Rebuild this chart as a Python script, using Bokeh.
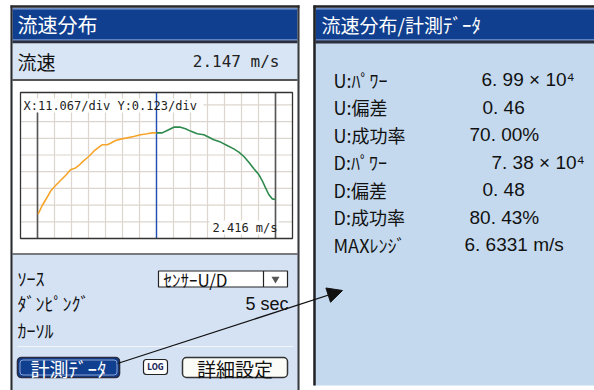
from bokeh.plotting import figure
from bokeh.models import Range1d, Arrow, NormalHead
from bokeh.core.properties import value
from bokeh.embed import file_html
from bokeh.resources import INLINE

# ---------------- data ----------------
x_per_div = 11.067          # mm / div
y_per_div = 0.123           # m/s / div
scale_bottom_mps = 1.637    # velocity at the bottom edge of the profile chart
pipe_wall_mm = [-77.47, 77.47]
cursor_mm = [0.0]

upstream_x_mm = [-77.0, -74.4, -71.2, -68.6, -65.7, -62.5, -59.2, -56.0, -52.7, -50.6,
                 -47.3, -44.1, -40.8, -37.5, -35.4, -32.1, -29.9, -26.7, -23.4, -19.1,
                 -14.8, -10.4, -6.1, -2.8, 0.0]
upstream_v = [1.819, 1.880, 1.941, 1.991, 2.027, 2.064, 2.101, 2.143, 2.157, 2.175,
              2.211, 2.241, 2.280, 2.310, 2.327, 2.327, 2.339, 2.359, 2.369, 2.378,
              2.388, 2.401, 2.408, 2.415, 2.415]
downstream_x_mm = [0.0, 3.7, 6.9, 11.3, 15.6, 18.9, 22.1, 26.5, 30.8, 34.1, 37.3, 41.7,
                   46.0, 50.3, 53.6, 56.9, 60.1, 63.4, 66.6, 68.8, 71.0, 73.1, 75.3, 77.5]
downstream_v = [2.415, 2.415, 2.432, 2.457, 2.457, 2.445, 2.428, 2.408, 2.401, 2.383, 2.364,
                2.347, 2.322, 2.297, 2.273, 2.241, 2.199, 2.150, 2.108, 2.064, 2.010,
                1.961, 1.929, 1.924]

left_title = "流速分布"
speed_label = "流速"
speed_value = "2.147 m/s"
scale_label = "X:11.067/div Y:0.123/div"
cursor_value = "2.416 m/s"
ctrl_labels = ["ｿｰｽ", "ﾀﾞﾝﾋﾟﾝｸﾞ", "ｶｰｿﾙ"]
source_value = "ｾﾝｻｰU/D"
damping_value = "5 sec"
btn_measure = "計測ﾃﾞｰﾀ"
btn_log = "LOG"
btn_detail = "詳細設定"

right_title = "流速分布/計測ﾃﾞｰﾀ"
meas_labels = ["U:ﾊﾟﾜｰ", "U:偏差", "U:成功率", "D:ﾊﾟﾜｰ", "D:偏差", "D:成功率", "MAXﾚﾝｼﾞ"]
meas_values = ["6. 99 × 10⁴", "0. 46", "70. 00%", "7. 38 × 10⁴", "0. 48", "80. 43%", "6. 6331 m/s"]

# ---------------- layout constants (pixels of the 594x390 picture) ----------------
FR_L, FR_R, FR_T, FR_B = 0, 594, 0, 390
CH_L, CH_R, CH_T, CH_B = 20, 292, 92, 238
N_XDIV = 16
PX_XDIV = (CH_R - CH_L) / N_XDIV
PX_YDIV = 16.7

JP = "Noto Sans CJK JP"
BLUE = "#113f8f"

p = figure(width=FR_R - FR_L, height=FR_B - FR_T,
           x_range=Range1d(FR_L, FR_R), y_range=Range1d(FR_B, FR_T),
           output_backend="svg", toolbar_location=None, min_border=0,
           x_axis_type=None, y_axis_type=None)
p.grid.visible = False
p.outline_line_color = None
p.background_fill_color = "white"
p.border_fill_color = "white"

x_left_val = -N_XDIV / 2 * x_per_div
p.extra_x_ranges = {"chart": Range1d(x_left_val - (CH_L - FR_L) / PX_XDIV * x_per_div,
                                     x_left_val + (FR_R - CH_L) / PX_XDIV * x_per_div)}
p.extra_y_ranges = {"chart": Range1d(scale_bottom_mps - (FR_B - CH_B) / PX_YDIV * y_per_div,
                                     scale_bottom_mps + (CH_B - FR_T) / PX_YDIV * y_per_div)}
chart_top_val = scale_bottom_mps + (CH_B - CH_T) / PX_YDIV * y_per_div


def box(l, r, t, b, fill, line=None, lw=1.0, radius=0):
    kw = dict(left=[l], right=[r], top=[t], bottom=[b], fill_color=fill,
              line_color=line, line_width=lw)
    if radius:
        kw["border_radius"] = radius
    p.quad(**kw)


def seg(x0, y0, x1, y1, color, w=1.0, **kw):
    p.segment(x0=[x0], y0=[y0], x1=[x1], y1=[y1], line_color=color, line_width=w, **kw)


def txt(x, y, s, size, color="black", font=JP, align="left", style="normal"):
    p.text(x=[x], y=[y], text=[s], text_font=value(font), text_font_size=f"{size}px",
           text_color=color, text_align=align, text_baseline="middle", text_font_style=style)


# ---------------- left panel ----------------
box(10, 299, 5, 392, "#d4e2f4")
box(12, 297, 8, 40, BLUE)
seg(12, 9, 297, 9, "#4a70b8", 1)
seg(12, 39, 297, 39, "#5f82c2", 1)
seg(12, 41.5, 297, 41.5, "#2b2e3c", 3)
box(12, 297, 43, 78, "#d8e5f5")
seg(12, 79.5, 297, 79.5, "#555555", 2)
box(12, 297, 80.5, 253, "white")
seg(12, 253.5, 297, 253.5, "#555555", 1.5)
seg(11, 5, 11, 392, "#2a2a2a", 2)
seg(298, 5, 298, 392, "#3a3a3a", 2)
seg(10, 6, 299, 6, "#2a2a2a", 2.5)

txt(17, 24, left_title, 20, "white")
txt(17, 61, speed_label, 19, "#111111")
txt(279, 61, speed_value, 16, "#222222", font="DejaVu Sans Mono", align="right")

# chart grid
grid_x = [x_left_val + k * x_per_div for k in range(1, N_XDIV)]
p.segment(x0=grid_x, y0=[scale_bottom_mps] * len(grid_x), x1=grid_x, y1=[chart_top_val] * len(grid_x),
          line_color="#dcd6ce", line_width=1.2, x_range_name="chart", y_range_name="chart")
grid_y = []
k = 1
while scale_bottom_mps + k * y_per_div < chart_top_val:
    grid_y.append(scale_bottom_mps + k * y_per_div)
    k += 1
p.segment(x0=[x_left_val] * len(grid_y), y0=grid_y, x1=[-x_left_val] * len(grid_y), y1=grid_y,
          line_color="#dcd6ce", line_width=1.2, x_range_name="chart", y_range_name="chart")

# label backgrounds
box(21, 203, 98, 112, "white")
box(209, 278, 220, 234, "white")

# pipe walls and cursor
p.segment(x0=[pipe_wall_mm[0]], y0=[112], x1=[pipe_wall_mm[0]], y1=[CH_B],
          line_color="#555555", line_width=1.6, x_range_name="chart")
p.segment(x0=[pipe_wall_mm[1]], y0=[CH_T], x1=[pipe_wall_mm[1]], y1=[CH_B],
          line_color="#555555", line_width=1.6, x_range_name="chart")
p.segment(x0=cursor_mm, y0=[CH_T], x1=cursor_mm, y1=[CH_B],
          line_color="#1f4fb5", line_width=1.4, x_range_name="chart")

box(CH_L, CH_R, CH_T, CH_B, None, "#333333", 1.3)

p.line(upstream_x_mm, upstream_v, line_color="#f6a52a", line_width=1.6,
       x_range_name="chart", y_range_name="chart")
p.line(downstream_x_mm, downstream_v, line_color="#2e8a4c", line_width=1.6,
       x_range_name="chart", y_range_name="chart")

txt(23, 105, scale_label, 12, "#222222", font="DejaVu Sans Mono")
txt(277, 227, cursor_value, 12, "#222222", font="DejaVu Sans Mono", align="right")

# controls
for lbl, yy in zip(ctrl_labels, [277, 302, 329]):
    txt(17, yy, lbl, 18, "#111111")
box(158, 287, 270.5, 286.5, "white", "#222222", 1.2)
seg(263, 270.5, 263, 286.5, "#222222", 1.2)
p.scatter(x=[275], y=[278.5], marker="inverted_triangle", size=8, fill_color="#555555", line_color=None)
txt(163, 278.5, source_value, 17, "#111111")
txt(288, 303, damping_value, 18, "#111111", font="Liberation Sans", align="right")
seg(17, 346, 293, 346, "#f2f6fc", 1.2)

box(17, 119, 357, 377, BLUE, "#2a2a40", 1.6, radius=4)
box(19.5, 116.5, 359.5, 374.5, None, "#8aa4d4", 1, radius=3)
txt(68, 367.5, btn_measure, 19, "white", align="center")
box(143, 167, 359, 374, "white", "#222222", 1.2, radius=3)
txt(155, 366.8, btn_log, 8, "#1c2a5a", font="DejaVu Sans Condensed", align="center", style="bold")
box(182, 287, 357, 377, "#fbfbf8", "#333333", 1.5, radius=4)
txt(234.5, 367.5, btn_detail, 19, "#111111", align="center")

# ---------------- right panel ----------------
box(313, 600, 5, 385, "#c4d9ee")
box(315, 600, 8, 40, BLUE)
seg(315, 9, 600, 9, "#4a70b8", 1)
seg(315, 39, 600, 39, "#5f82c2", 1)
seg(315, 41.5, 600, 41.5, "#2b2e3c", 3)
seg(314, 5, 314, 385, "#222222", 2.5)
seg(313, 6, 600, 6, "#222222", 2.5)
txt(321, 24, right_title, 19, "white")

value_x = [481, 482, 469, 491, 482, 469, 464]
for i, (lbl, val) in enumerate(zip(meas_labels, meas_values)):
    yy = 79 + 27.5 * i
    txt(333, yy, lbl, 18, "#111111")
    txt(value_x[i], yy, val, 19, "#111111", font="Liberation Sans")

# ---------------- arrow ----------------
p.add_layout(Arrow(end=NormalHead(size=15, fill_color="#111111", line_color="#111111"),
                   x_start=117, y_start=363, x_end=342, y_end=290,
                   line_color="#111111", line_width=1.3))

open("out.html", "w").write(file_html(p, INLINE))
